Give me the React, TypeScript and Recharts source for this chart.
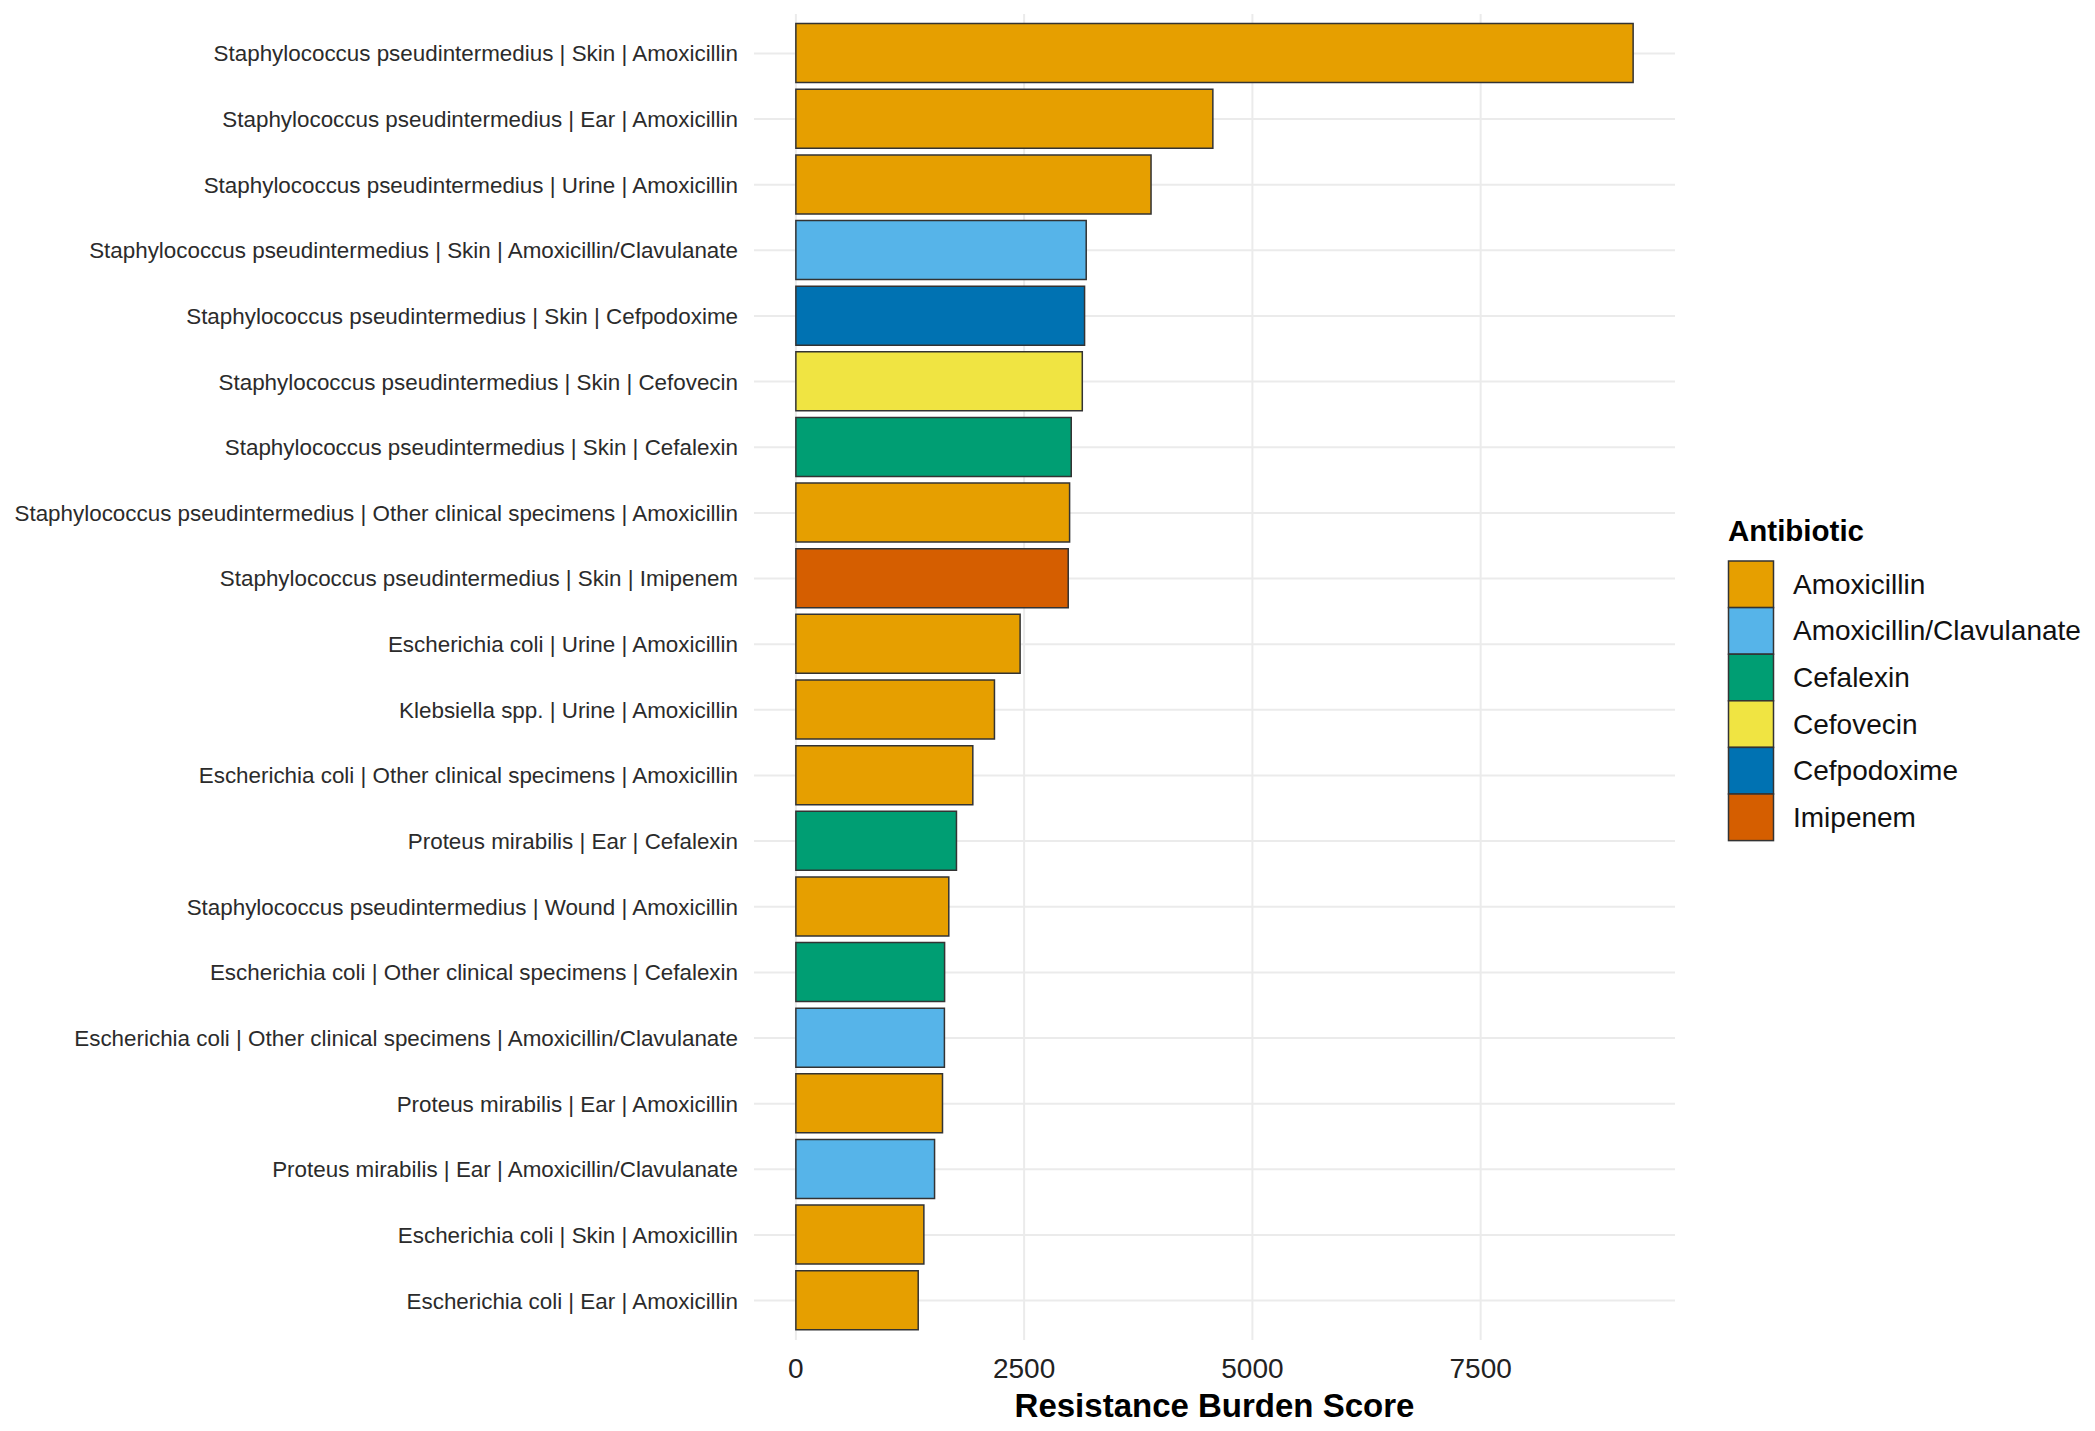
import React from 'react';
import { BarChart, Bar, XAxis, YAxis, CartesianGrid, Cell } from 'recharts';

// rows from top to bottom
const organisms = [
    'Staphylococcus pseudintermedius',
    'Staphylococcus pseudintermedius',
    'Staphylococcus pseudintermedius',
    'Staphylococcus pseudintermedius',
    'Staphylococcus pseudintermedius',
    'Staphylococcus pseudintermedius',
    'Staphylococcus pseudintermedius',
    'Staphylococcus pseudintermedius',
    'Staphylococcus pseudintermedius',
    'Escherichia coli',
    'Klebsiella spp.',
    'Escherichia coli',
    'Proteus mirabilis',
    'Staphylococcus pseudintermedius',
    'Escherichia coli',
    'Escherichia coli',
    'Proteus mirabilis',
    'Proteus mirabilis',
    'Escherichia coli',
    'Escherichia coli',
];

const specimens = [
    'Skin', 'Ear', 'Urine', 'Skin', 'Skin', 'Skin', 'Skin',
    'Other clinical specimens', 'Skin', 'Urine', 'Urine',
    'Other clinical specimens', 'Ear', 'Wound',
    'Other clinical specimens', 'Other clinical specimens',
    'Ear', 'Ear', 'Skin', 'Ear',
];

const drugs = [
    'Amoxicillin', 'Amoxicillin', 'Amoxicillin', 'Amoxicillin/Clavulanate',
    'Cefpodoxime', 'Cefovecin', 'Cefalexin', 'Amoxicillin', 'Imipenem',
    'Amoxicillin', 'Amoxicillin', 'Amoxicillin', 'Cefalexin', 'Amoxicillin',
    'Cefalexin', 'Amoxicillin/Clavulanate', 'Amoxicillin',
    'Amoxicillin/Clavulanate', 'Amoxicillin', 'Amoxicillin',
];

const scores = [
    9170, 4567, 3890, 3180, 3162, 3137, 3016, 2998, 2983, 2456,
    2175, 1938, 1759, 1675, 1629, 1627, 1606, 1519, 1402, 1340,
];

const legendNames = [
    'Amoxicillin', 'Amoxicillin/Clavulanate', 'Cefalexin',
    'Cefovecin', 'Cefpodoxime', 'Imipenem',
];
const legendColors = ['#E69F00', '#56B4E9', '#009E73', '#F0E442', '#0072B2', '#D55E00'];

const xTicks = [0, 2500, 5000, 7500];

const FONT = '"Liberation Sans", Arial, sans-serif';

const colorOf = (drug: string) => legendColors[legendNames.indexOf(drug)];

const chartData = scores.map((score, i) => ({
    label: `${organisms[i]} | ${specimens[i]} | ${drugs[i]}`,
    score,
    drug: drugs[i],
}));

// ggplot-style 5% expansion on the value axis
const maxScore = Math.max(...scores);
const pad = maxScore * 0.05;

const Legend = () => (
    <svg
        width={2095}
        height={1431}
        style={{ position: 'absolute', left: 0, top: 0, pointerEvents: 'none' }}
    >
        <text x={1728} y={530} dominantBaseline="central" fontFamily={FONT} fontSize={29.5} fontWeight={700} fill="#000">
            Antibiotic
        </text>
        {legendNames.map((name, i) => (
            <g key={name}>
                <rect x={1728.5} y={561 + i * 46.6} width={45} height={46.6} fill={legendColors[i]} stroke="#333333" strokeWidth={1.5} />
                <text x={1793} y={561 + i * 46.6 + 23.3} dominantBaseline="central" fontFamily={FONT} fontSize={28} fill="#111">
                    {name}
                </text>
            </g>
        ))}
    </svg>
);

export default function App() {
    return (
        <div style={{ position: 'absolute', left: 0, top: 0, width: 2095, height: 1431, background: '#fff' }}>
            <BarChart
                width={2095}
                height={1431}
                data={chartData}
                layout="vertical"
                margin={{ top: 14, right: 420, bottom: 0, left: 0 }}
            >
                <CartesianGrid stroke="#EBEBEB" strokeWidth={2} syncWithTicks />
                <XAxis
                    type="number"
                    dataKey="score"
                    domain={[-pad, maxScore + pad]}
                    allowDataOverflow
                    ticks={xTicks}
                    axisLine={false}
                    tickLine={false}
                    tickSize={0}
                    tickMargin={18}
                    height={91}
                    tick={{ fill: '#222', fontSize: 28, fontFamily: FONT }}
                    label={{
                        value: 'Resistance Burden Score',
                        position: 'insideBottom',
                        offset: 14,
                        fill: '#000',
                        fontSize: 33,
                        fontWeight: 700,
                        fontFamily: FONT,
                    }}
                />
                <YAxis
                    type="category"
                    dataKey="label"
                    width={754}
                    axisLine={false}
                    tickLine={false}
                    tickSize={0}
                    tickMargin={16}
                    interval={0}
                    padding={{ top: 6.6, bottom: 6.6 }}
                    tick={{ fill: '#2b2b2b', fontSize: 22.4, fontFamily: FONT }}
                />
                <Bar dataKey="score" barSize={59} stroke="#333333" strokeWidth={1.5} isAnimationActive={false}>
                    {chartData.map((d) => (
                        <Cell key={d.label} fill={colorOf(d.drug)} />
                    ))}
                </Bar>
            </BarChart>
            <Legend />
        </div>
    );
}
